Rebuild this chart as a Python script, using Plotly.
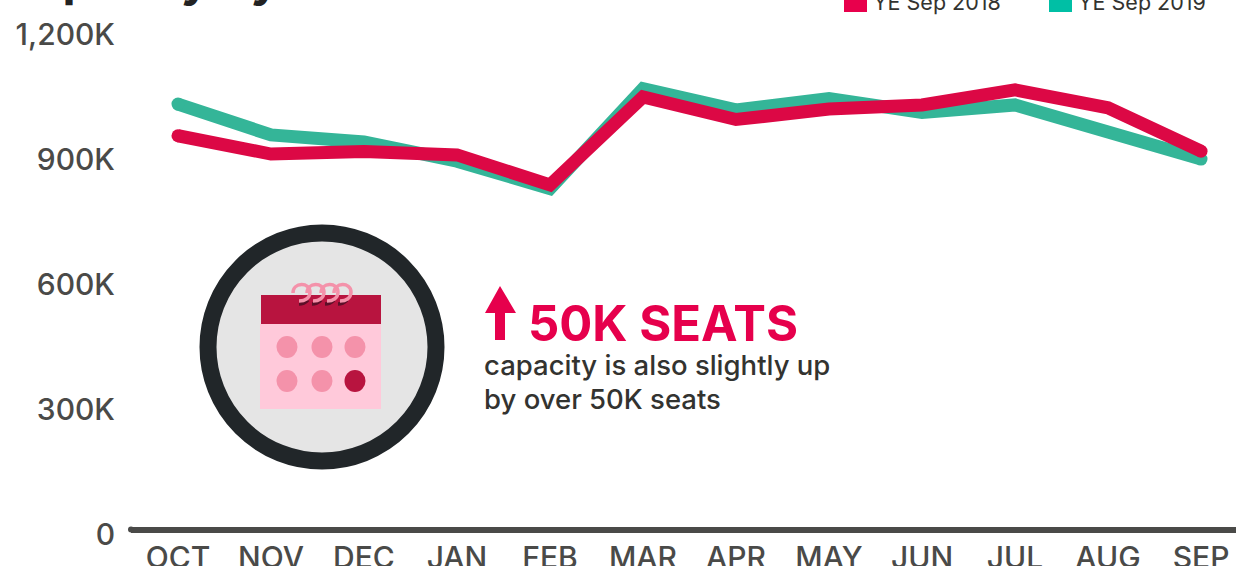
import plotly.graph_objects as go

months = ["OCT", "NOV", "DEC", "JAN", "FEB", "MAR", "APR", "MAY", "JUN", "JUL", "AUG", "SEP"]
ye_2018 = [945, 901, 907, 899, 827, 1038, 984, 1009, 1019, 1055, 1012, 908]
ye_2019 = [1021, 947, 930, 884, 818, 1058, 1007, 1034, 1001, 1019, 954, 889]
y_ticks = [0, 300, 600, 900, 1200]
y_labels = ["0", "300K", "600K", "900K", "1,200K"]

W, H = 1236, 566
L, R, T, B = 131, 0, 0, 26
FONT = "Inter"
AXIS = "#4a4a48"
RED = "#dc0845"
TEAL = "#34b598"
HOT = "#e6004c"
PINK = "#f492aa"
DEEP = "#b8143f"


def px(x):
    return (x - L) / (W - L - R)


def py(y):
    return 1 - (y - T) / (H - T - B)


def rect(x0, y0, x1, y1, color):
    return dict(type="rect", xref="paper", yref="paper", x0=px(x0), x1=px(x1), y0=py(y0), y1=py(y1),
                fillcolor=color, line=dict(width=0), layer="above")


def ell(x0, y0, x1, y1, color, line=None, lw=0):
    return dict(type="circle", xref="paper", yref="paper", x0=px(x0), x1=px(x1), y0=py(y0), y1=py(y1),
                fillcolor=color, line=dict(color=line or color, width=lw), layer="above")


def P(x, y):
    return f"{px(x):.5f},{py(y):.5f}"


def polygon(points, color):
    s = "M" + P(*points[0]) + "".join(" L" + P(*p) for p in points[1:]) + " Z"
    return dict(type="path", xref="paper", yref="paper", path=s, fillcolor=color,
                line=dict(width=0), layer="above")


def curve(start, *beziers, color, width):
    s = "M" + P(*start)
    for a, b, c in beziers:
        s += " C" + P(*a) + " " + P(*b) + " " + P(*c)
    return dict(type="path", xref="paper", yref="paper", path=s,
                line=dict(color=color, width=width), layer="above")


def label(x, y, text, size, color, weight=400):
    return dict(xref="paper", yref="paper", x=px(x), y=py(y), text=text,
                showarrow=False, xanchor="left", yanchor="middle", align="left",
                font=dict(family=FONT, size=size, color=color, weight=weight))


sizes = [13] + [0] * 10 + [13]
fig = go.Figure()
fig.add_trace(go.Scatter(x=months, y=ye_2019, name="YE Sep 2019", mode="lines+markers",
                         line=dict(color=TEAL, width=13), marker=dict(color=TEAL, size=sizes, opacity=1, line=dict(width=0))))
fig.add_trace(go.Scatter(x=months, y=ye_2018, name="YE Sep 2018", mode="lines+markers",
                         line=dict(color=RED, width=13), marker=dict(color=RED, size=sizes, opacity=1, line=dict(width=0))))

shapes = [
    ell(128, 526.5, 134, 532.5, AXIS),
    rect(844, -10, 867, 12, "#e8004c"),
    rect(1049, -10, 1072, 12, "#00bfa5"),
    ell(208, 233, 436, 461, "#e5e5e5", "#212629", 17),
    rect(260, 324, 381, 409, "#ffc9da"),
    rect(261, 295, 381, 324, DEEP),
]
for cx in (302, 315, 328, 341):
    shapes.append(curve((cx - 3, 304), ((cx + 1, 304), (cx + 4, 302), (cx + 6, 300)), color="#5c0f28", width=3.5))
for cx in (301, 315, 329, 342):
    shapes.append(curve((cx - 8, 293),
                        ((cx - 8, 282), (cx + 9, 282), (cx + 9, 292)),
                        ((cx + 9, 298), (cx + 4, 301), (cx - 2, 301)),
                        color=PINK, width=3.5))
for cx, cy, c in [(287, 347, PINK), (322, 347, PINK), (355, 347, PINK),
                  (287, 381, PINK), (322, 381, PINK), (355, 381, DEEP)]:
    shapes.append(ell(cx - 10.5, cy - 11, cx + 10.5, cy + 11, c))
shapes.append(polygon([(500, 286), (516, 313), (505, 313), (505, 340), (495, 340), (495, 313), (485, 313)], HOT))

annotations = [
    label(-3, -22, "Capacity by", 48, "#222222", 700),
    label(871, 2, "YE Sep 2018", 21.5, "#333330"),
    label(1076, 2, "YE Sep 2019", 21.5, "#333330"),
    label(526, 323, "50K SEATS", 49, HOT, 700),
    label(482, 365, "capacity is also slightly up", 27.5, "#333330", 500),
    label(482, 399, "by over 50K seats", 27.5, "#333330", 500),
]

fig.update_layout(
    width=W, height=H, autosize=False,
    margin=dict(l=L, r=R, t=T, b=B, pad=0),
    paper_bgcolor="white", plot_bgcolor="white",
    showlegend=False, hovermode=False,
    shapes=shapes, annotations=annotations,
    font=dict(family=FONT, color=AXIS),
    xaxis=dict(type="category", categoryorder="array", categoryarray=months, automargin=False,
               range=[-0.505, 11.376], showgrid=False, zeroline=False, showline=False,
               ticks="outside", ticklen=3, tickcolor="rgba(0,0,0,0)", ticklabelstandoff=-12,
               tickfont=dict(family=FONT, size=30, color=AXIS, weight=500), tickangle=0),
    yaxis=dict(range=[-25.2, 1270.8], tickmode="array", tickvals=y_ticks, ticktext=y_labels, automargin=False,
               showgrid=False, showline=False, zeroline=True, zerolinecolor=AXIS, zerolinewidth=6,
               ticks="outside", ticklen=9, tickcolor="rgba(0,0,0,0)", ticklabelshift=5,
               tickfont=dict(family=FONT, size=30, color=AXIS, weight=500)),
)

fig.write_html("out.html", config={"displayModeBar": False},
               post_script="document.body.style.margin='0';document.body.style.overflow='hidden';")
